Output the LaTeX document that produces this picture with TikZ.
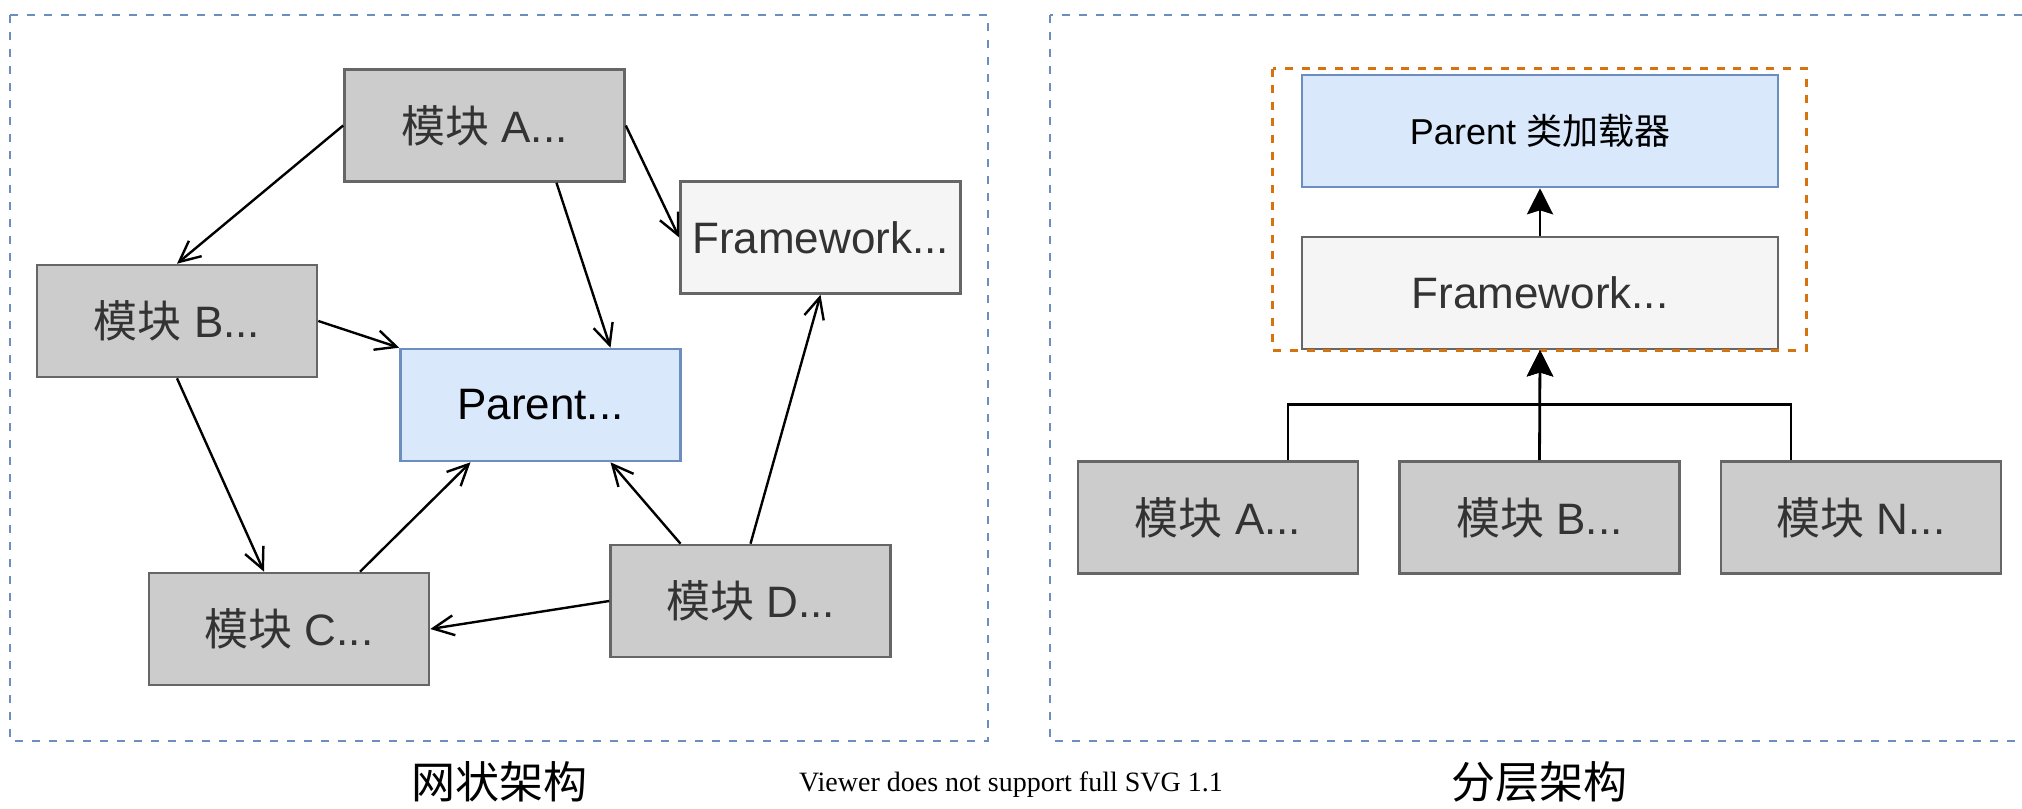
\documentclass[tikz,border=0pt]{standalone}
\usepackage{fontspec}
\setmainfont{Liberation Sans}
\newfontfamily\cjk{Noto Sans CJK SC}
\newfontfamily\viewerfont{Liberation Serif}
\usepackage{xcolor}
\usetikzlibrary{calc, arrows.meta}
\definecolor{boxgrey}{HTML}{CCCCCC}
\definecolor{boxline}{HTML}{666666}
\definecolor{boxtext}{HTML}{333333}
\definecolor{lightfill}{HTML}{F5F5F5}
\definecolor{bluefill}{HTML}{DAE8FC}
\definecolor{blueline}{HTML}{6C8EBF}
\definecolor{orangeline}{HTML}{D6730F}

\begin{document}
\begin{tikzpicture}[x=0.5pt, y=-0.5pt,
    box/.style={draw=boxline, line width=1.3pt, minimum width=140pt, minimum height=56pt,
        inner sep=0pt, text=boxtext, font=\fontsize{22}{26}\selectfont},
    grey box/.style={box, fill=boxgrey},
    light box/.style={box, fill=lightfill},
    blue box/.style={box, draw=blueline, fill=bluefill, text=black},
    link/.style={line width=1.2pt, -{Straight Barb[length=10.5pt, width=10pt]}},
    layer link/.style={line width=1.4pt, -{Stealth[length=13pt, width=13pt, inset=2pt]}},
    frame/.style={draw=blueline, line width=1.3pt, dash pattern=on 4.2pt off 4.3pt},
    title/.style={font=\cjk\fontsize{22}{26}\selectfont}]
        \useasboundingbox (0,0) rectangle (2022,808);
        \draw[frame] (10,15) rectangle (988,741);
        \draw[frame] (1050,15) rectangle (2034,741);
        % mesh
        \node[grey box] (modA) at (484.5,125.5) {{\cjk 模块} A...};
        \node[light box] (frmL) at (820.5,237.5) {Framework...};
        \node[grey box] (modB) at (177,321) {{\cjk 模块} B...};
        \node[blue box] (parL) at (540.5,405) {Parent...};
        \node[grey box] (modC) at (289,629) {{\cjk 模块} C...};
        \node[grey box] (modD) at (750.5,601) {{\cjk 模块} D...};
        \draw[link] (modA.west) -- (modB.north);
        \draw[link] ($(modA.south)+(72,0)$) -- ($(parL.north)+(70,0)$);
        \draw[link] (modA.east) -- (frmL.west);
        \draw[link] (modB.east) -- (parL.north west);
        \draw[link] (modB.south) -- ($(modC.north)+(-25,0)$);
        \draw[link] ($(modC.north)+(71,0)$) -- ($(parL.south)+(-70,0)$);
        \draw[link] ($(modD.north)+(-70,0)$) -- ($(parL.south)+(70,0)$);
        \draw[link] (modD.north) -- (frmL.south);
        \draw[link] (modD.west) -- (modC.east);
        % layers
        \node[blue box, minimum width=238pt, font=\fontsize{18}{22}\selectfont] (parR) at (1540,131) {Parent {\cjk 类加载器}};
        \node[light box, minimum width=238pt] (frmR) at (1540,293) {Framework...};
        \draw[orangeline, line width=1.3pt, dash pattern=on 4pt off 4.3pt]
            ($(parR.north west)+(-28,-5)$) rectangle ($(frmR.south east)+(27,0)$);
        \node[grey box] (layA) at (1218,517.5) {{\cjk 模块} A...};
        \node[grey box] (layB) at (1539.5,517.5) {{\cjk 模块} B...};
        \node[grey box] (layN) at (1861,517.5) {{\cjk 模块} N...};
        \draw[layer link] (frmR.north) -- (parR.south);
        \draw[layer link] ($(layA.north)+(70,0)$) -- ++(0,-56) -| (frmR.south);
        \draw[layer link] (layB.north) -- (frmR.south);
        \draw[layer link] ($(layN.north)+(-70,0)$) -- ++(0,-56) -| (frmR.south);
        % titles
        \node[title] (meshTitle) at (499,782) {网状架构};
        \node[title] (layerTitle) at (1539,782) {分层架构};
        \node[font=\viewerfont\fontsize{14}{16}\selectfont] (viewer) at (1011,785) {Viewer does not support full SVG 1.1};
    \end{tikzpicture}
\end{document}
